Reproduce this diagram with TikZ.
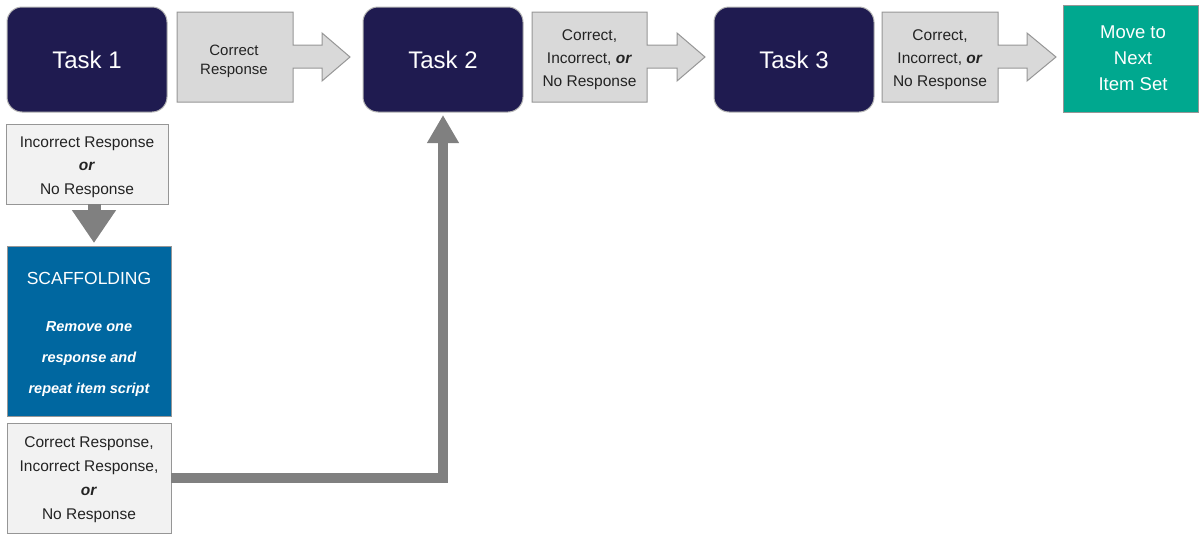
\documentclass[tikz,border=0pt]{standalone}
\usepackage{fontspec}
\setmainfont{Liberation Sans}
\usetikzlibrary{arrows.meta}
\definecolor{navy}{RGB}{31,27,80}
\definecolor{scafblue}{RGB}{0,103,160}
\definecolor{teal2}{RGB}{0,168,143}
\definecolor{callgray}{RGB}{217,217,217}
\definecolor{lightbox}{RGB}{242,242,242}
\definecolor{edgegray}{RGB}{150,150,150}
\definecolor{arrgray}{RGB}{128,128,128}
\definecolor{txt}{RGB}{35,35,35}
\begin{document}
\begin{tikzpicture}[x=1pt,y=-1pt,
  taskbox/.style={rounded corners=15pt, fill=navy, draw=edgegray!70, line width=1pt,
    minimum width=160pt, minimum height=105pt, inner sep=0pt, outer sep=0pt,
    text=white, font=\fontsize{24}{28}\selectfont},
  calltext/.style={inner sep=0pt, align=center, text=txt, font=\fontsize{15.5}{23}\selectfont},
  callout/.style={fill=callgray, draw=edgegray, line width=1pt, line join=miter},
  plainbox/.style={fill=lightbox, draw=edgegray, line width=1pt, inner sep=0pt, outer sep=0pt,
    align=center, text=txt, font=\fontsize{15.5}{24}\selectfont},
  flowarrow/.style={draw=arrgray, line join=miter}
]
\useasboundingbox (0,0) rectangle (1199,533);

% tasks
\node[taskbox] (t1) at (87,59.5) {Task 1};
\node[taskbox] (t2) at (443,59.5) {Task 2};
\node[taskbox] (t3) at (794,59.5) {Task 3};
\node[fill=teal2, draw=edgegray, line width=1pt, minimum width=135pt, minimum height=107pt,
  inner sep=0pt, outer sep=0pt, outer sep=0pt] (next) at (1131,58.5) {};
\node[align=center, text=white, inner sep=0pt,
  font=\fontsize{18.5}{26}\selectfont] (nextt) at (1133,58.5) {Move to\\Next\\Item Set};

% callout arrows
\draw[callout] (177,12) -- (293,12) -- (293,45) -- (322,45) -- (322,33) -- (350,57)
  -- (322,81) -- (322,68) -- (293,68) -- (293,102) -- (177,102) -- cycle;
\node[calltext, font=\fontsize{15}{19}\selectfont] (c1) at (234,61) {Correct\\Response};

\draw[callout] (532,12) -- (647,12) -- (647,45) -- (677,45) -- (677,33) -- (705,57)
  -- (677,81) -- (677,68) -- (647,68) -- (647,102) -- (532,102) -- cycle;
\node[calltext] (c2) at (589.5,60) {Correct,\\Incorrect, \textbf{\textit{or}}\\No Response};

\draw[callout] (882,12) -- (998,12) -- (998,45) -- (1027,45) -- (1027,33) -- (1056,57)
  -- (1027,81) -- (1027,68) -- (998,68) -- (998,102) -- (882,102) -- cycle;
\node[calltext] (c3) at (940,60) {Correct,\\Incorrect, \textbf{\textit{or}}\\No Response};

% left column
\node[plainbox, minimum width=162pt, minimum height=80pt] (inc) at (87,164) {};
\node[align=center, text=txt, inner sep=0pt, font=\fontsize{15.5}{23.5}\selectfont] (inct) at (87,167)
  {Incorrect Response\\\textbf{\textit{or}}\\No Response};

\node[fill=scafblue, draw=edgegray, line width=1pt, minimum width=164pt, minimum height=170pt,
  inner sep=0pt, outer sep=0pt] (scaf) at (89,331) {};
\node[text=white, font=\fontsize{17.5}{20}\selectfont, inner sep=0pt] (scaft) at (89,278) {SCAFFOLDING};
\node[text=white, align=center, inner sep=0pt, font=\fontsize{14.5}{31}\selectfont\bfseries\itshape]
  (scafs) at (89,359) {Remove one\\response and\\repeat item script};

\node[plainbox, minimum width=164pt, minimum height=110pt] (bot) at (89,478) {};
\node[align=center, text=txt, inner sep=0pt, font=\fontsize{15.5}{24}\selectfont] (bott) at (89,480)
  {Correct Response,\\Incorrect Response,\\\textbf{\textit{or}}\\No Response};

% connectors
\draw[flowarrow, line width=13pt, -{Triangle[length=33pt,width=42pt]}] (inc.south -| 94,0) -- (94,243);
\draw[flowarrow, line width=10pt, -{Triangle[length=28pt,width=30pt]}]
  (bot.east) -| ([yshift=-3pt]t2.south);
\end{tikzpicture}
\end{document}
